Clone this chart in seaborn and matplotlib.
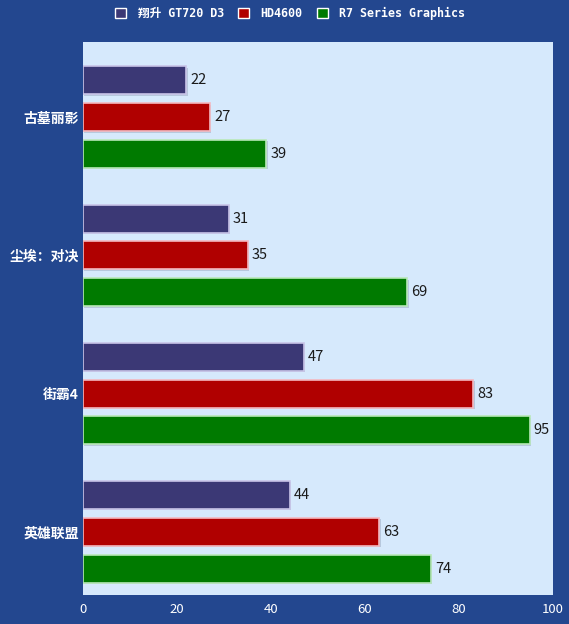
import matplotlib.pyplot as plt
import matplotlib.patheffects as pe
import pandas as pd
import seaborn as sns

# data
games = ['古墓丽影', '尘埃：对决', '街霸4', '英雄联盟']
series = ['翔升 GT720 D3', 'HD4600', 'R7 Series Graphics']
gt720 = [22, 31, 47, 44]
hd4600 = [27, 35, 83, 63]
r7 = [39, 69, 95, 74]
colors = ['#3b3875', '#b00000', '#007a00']
edges = ['#c8c4e8', '#f4b8c0', '#b8e8b8']

df = pd.DataFrame({
    'game': games * 3,
    'card': [s for s in series for _ in games],
    'fps': gt720 + hd4600 + r7,
})

sns.set_style('white')
plt.rcParams['font.family'] = ['Noto Sans CJK SC', 'DejaVu Sans']

fig = plt.figure(figsize=(5.69, 6.24), dpi=100, facecolor='#23478f')
ax = fig.add_axes([0.1459, 0.0465, 0.826, 0.886])
ax.set_facecolor('#d6e9fc')

sns.barplot(data=df, y='game', x='fps', hue='card', orient='h',
            palette=colors, saturation=1, width=0.8, gap=0.24, ax=ax,
            linewidth=1.2)

shadow = [pe.SimplePatchShadow(offset=(1, -1), shadow_rgbFace='#9aa8c0', alpha=0.5), pe.Normal()]
for cont, ec in zip(ax.containers, edges):
    for bar in cont:
        bar.set_edgecolor(ec)
        bar.set_path_effects(shadow)
    ax.bar_label(cont, padding=3, fontsize=10.5, color='#1a1a1a')

ax.set_xlim(0, 100)
ax.set_ylim(3.457, -0.543)
ax.set_xticks([0, 20, 40, 60, 80, 100])
ax.set_xlabel('')
ax.set_ylabel('')
ax.tick_params(axis='x', colors='white', labelsize=9.5, length=0, pad=6)
ax.tick_params(axis='y', colors='white', labelsize=10, length=0, pad=3)
for lbl in ax.get_yticklabels():
    lbl.set_fontweight('bold')
for sp in ax.spines.values():
    sp.set_visible(False)

ax.legend_.remove()
handles = [plt.Rectangle((0, 0), 1, 1, facecolor=c, edgecolor='white', linewidth=1) for c in colors]
fig.legend(handles, series, loc='center', bbox_to_anchor=(0.51, 0.979), ncol=3,
           frameon=False, handlelength=0.95, handleheight=0.95, handletextpad=1.0, columnspacing=1.2,
           labelcolor='white',
           prop={'family': ['DejaVu Sans Mono', 'Noto Sans CJK SC'], 'weight': 'bold', 'size': 8.4})

fig.savefig('out.png', facecolor=fig.get_facecolor())
